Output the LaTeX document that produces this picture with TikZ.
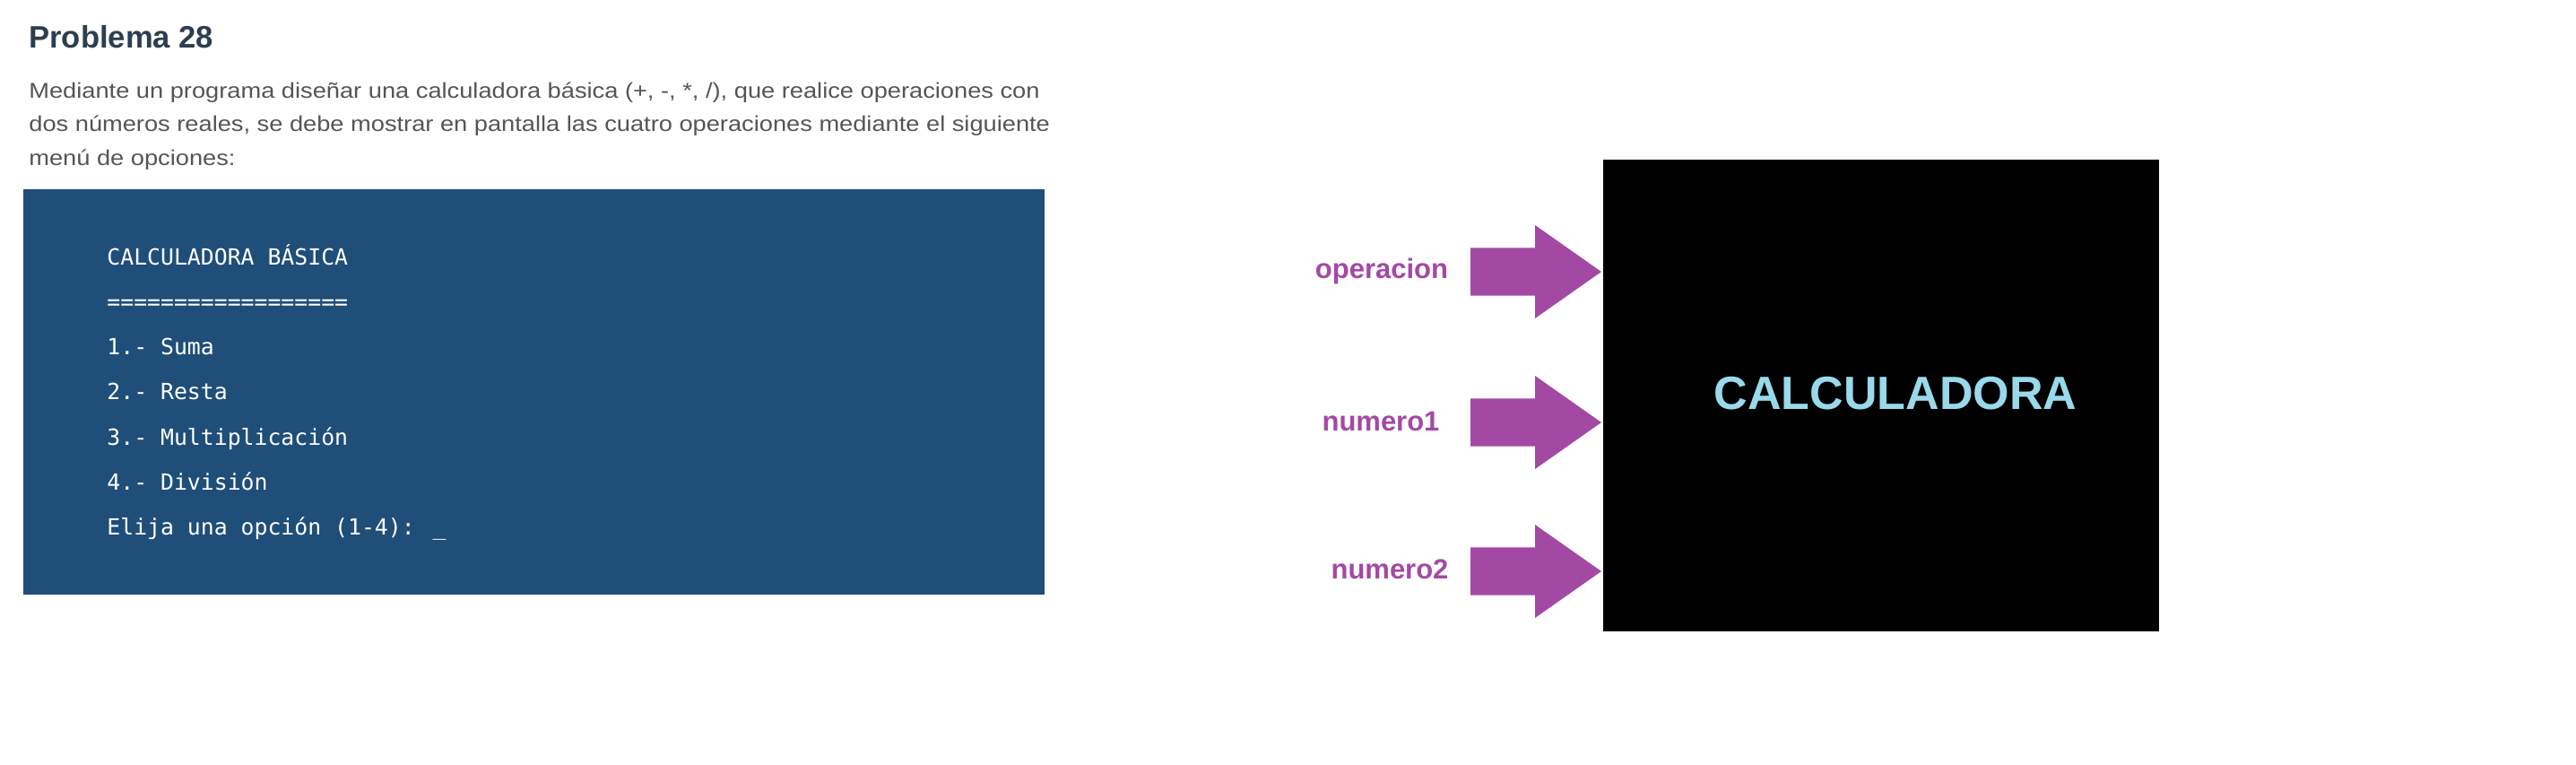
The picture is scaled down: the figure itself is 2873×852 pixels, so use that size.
\documentclass[tikz,border=0pt]{standalone}
\usepackage{fontspec}
\setmainfont{Liberation Sans}
\newfontfamily\menufont{DejaVu Sans Mono}
\newfontfamily\parafont[FakeStretch=1.135]{Liberation Sans}
\usepackage{tikz}
\usetikzlibrary{calc}
\definecolor{titledark}{HTML}{2C3E50}
\definecolor{textgray}{HTML}{555555}
\definecolor{menublue}{HTML}{1F4E79}
\definecolor{inpurple}{HTML}{A349A4}
\definecolor{calccyan}{HTML}{99D9EA}
\tikzset{every node/.append style={inner sep=0pt}}

\begin{document}
\begin{tikzpicture}[x=0.5pt,y=-0.5pt,
  paraline/.style={anchor=base west,textgray,font=\parafont\fontsize{12}{15}\selectfont},
  menuline/.style={anchor=base west,white,font=\menufont\fontsize{12.4}{15}\selectfont},
  inlabel/.style={anchor=base,inpurple,font=\bfseries\fontsize{15.5}{18}\selectfont},
  inarrow/.style={fill=inpurple}]
  \useasboundingbox (0,0) rectangle (2873,852);
  % enunciado
  \node[anchor=base west,titledark,font=\bfseries\fontsize{17.3}{21}\selectfont] (title) at (32,53) {Problema 28};
  \node[paraline] (p1) at (32,109) {Mediante un programa diseñar una calculadora básica (+, -, *, /), que realice operaciones con};
  \node[paraline] (p2) at (32,146.5) {dos números reales, se debe mostrar en pantalla las cuatro operaciones mediante el siguiente};
  \node[paraline] (p3) at (32,184) {menú de opciones:};
  % pantalla del menu
  \fill[menublue] (26,211) rectangle (1165,663);
  \node[menuline] (m1) at (119,295) {CALCULADORA BÁSICA};
  \node[menuline] (m2) at (119,345.3) {==================};
  \node[menuline] (m3) at (119,395.6) {1.- Suma};
  \node[menuline] (m4) at (119,445.9) {2.- Resta};
  \node[menuline] (m5) at (119,496.2) {3.- Multiplicación};
  \node[menuline] (m6) at (119,546.5) {4.- División};
  \node[menuline] (m7) at (119,596.8) {Elija una opción (1-4): \_};
  % caja negra
  \node[fill=black,minimum width=310pt,minimum height=263pt,anchor=north west] (calc) at (1788,178) {};
  \node[anchor=base,calccyan,font=\bfseries\fontsize{26}{30}\selectfont] (calclab) at (2114,456) {CALCULADORA};
  % entradas
  \coordinate (tipop) at ($(calc.west |- 0,303)+(-2,0)$);
  \coordinate (tipn1) at ($(calc.west |- 0,471)+(-2,0)$);
  \coordinate (tipn2) at ($(calc.west |- 0,637)+(-2,0)$);
  \fill[inarrow] (tipop) -- ++(-74,-52) -- ++(0,25.3) -- ++(-72,0) -- ++(0,53.4) -- ++(72,0) -- ++(0,25.3) -- cycle;
  \fill[inarrow] (tipn1) -- ++(-74,-52) -- ++(0,25.3) -- ++(-72,0) -- ++(0,53.4) -- ++(72,0) -- ++(0,25.3) -- cycle;
  \fill[inarrow] (tipn2) -- ++(-74,-52) -- ++(0,25.3) -- ++(-72,0) -- ++(0,53.4) -- ++(72,0) -- ++(0,25.3) -- cycle;
  \node[inlabel] (lblop) at (1541,310) {operacion};
  \node[inlabel] (lbln1) at (1540,480) {numero1};
  \node[inlabel] (lbln2) at (1550,645) {numero2};
\end{tikzpicture}
\end{document}
